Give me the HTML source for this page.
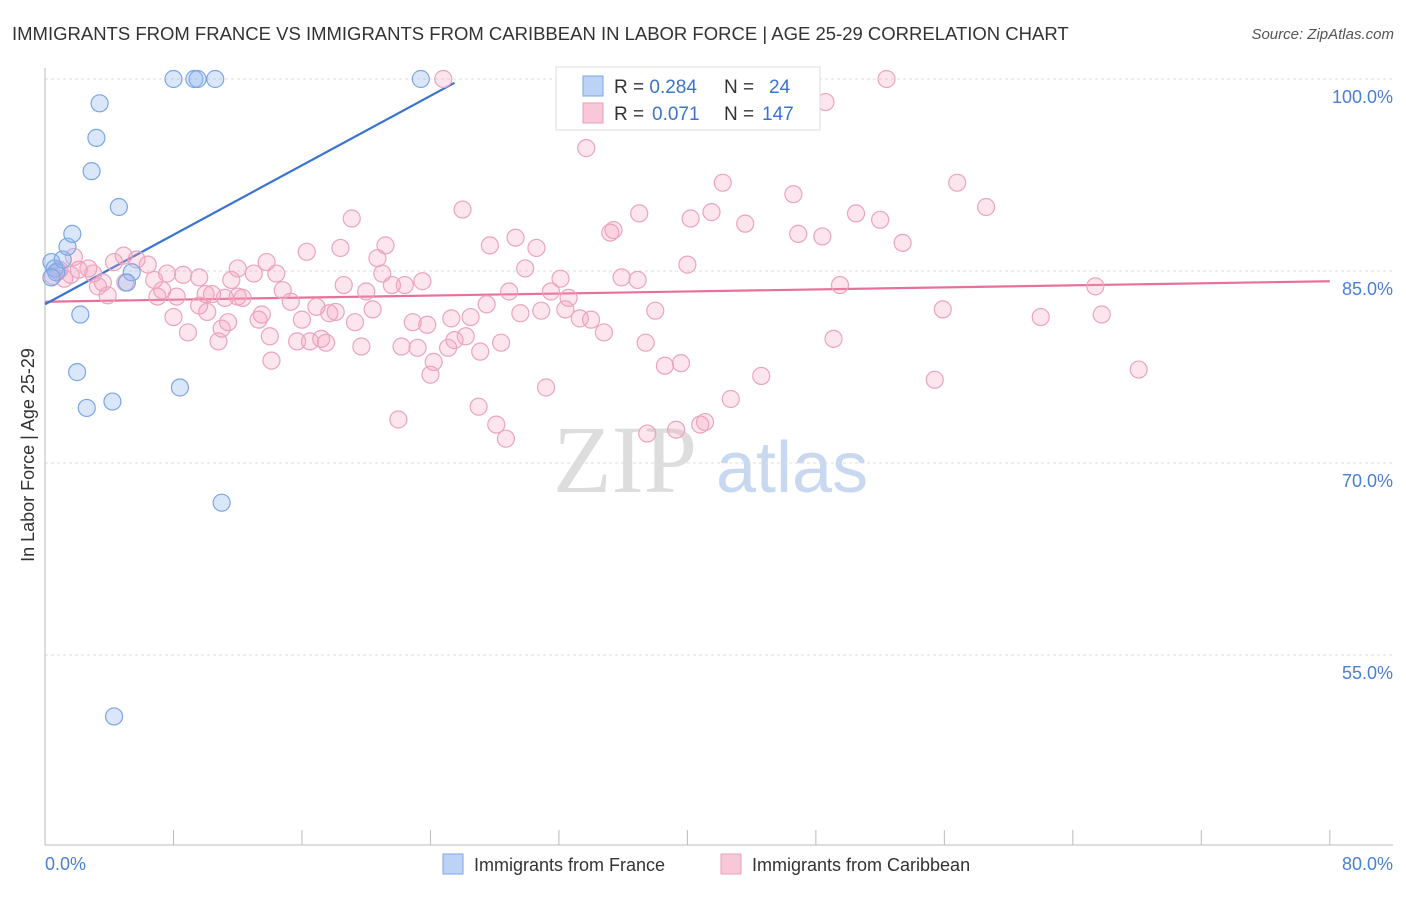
<!DOCTYPE html>
<html><head><meta charset="utf-8"><style>
body{margin:0;background:#fff;font-family:"Liberation Sans",sans-serif;}
</style></head><body>
<svg width="1406" height="892" xmlns="http://www.w3.org/2000/svg" style="font-family:'Liberation Sans',sans-serif">
<text x="12" y="40" font-size="18.5" fill="#333">IMMIGRANTS FROM FRANCE VS IMMIGRANTS FROM CARIBBEAN IN LABOR FORCE | AGE 25-29 CORRELATION CHART</text>
<text x="1394" y="39" font-size="15" fill="#555" text-anchor="end" font-style="italic">Source: ZipAtlas.com</text>
<g>
<text x="553" y="492" font-size="96" fill="#ddd" font-family="Liberation Serif">ZIP</text>
<text x="716" y="492" font-size="72" fill="#c8d8f0">atlas</text>
</g>
<g id="grid"></g><g id="axes"></g><g id="trend"></g><g id="pts"></g>
<text transform="translate(34,455) rotate(-90)" font-size="18" fill="#333" text-anchor="middle">In Labor Force | Age 25-29</text>
<text x="45" y="870" font-size="18" fill="#4a7fd4">0.0%</text>
<text x="1393" y="870" font-size="18" fill="#4a7fd4" text-anchor="end">80.0%</text>
<g>
<rect x="556" y="67" width="264" height="63" fill="#fff" stroke="#ddd"/>
<rect x="583" y="76" width="20" height="20" fill="#bcd3f5" stroke="#7aa6e6"/>
<rect x="583" y="103" width="20" height="20" fill="#f9c8d8" stroke="#e8a0b8"/>
<text x="614" y="93" font-size="19" fill="#333">R = <tspan fill="#3a73d0">0.284</tspan><tspan x="724">N = </tspan><tspan x="769" fill="#3a73d0">24</tspan></text>
<text x="614" y="120" font-size="19" fill="#333">R = <tspan x="652" fill="#3a73d0">0.071</tspan><tspan x="724">N = </tspan><tspan x="762" fill="#3a73d0">147</tspan></text>
</g>
<g>
<rect x="443" y="854" width="20" height="20" fill="#bcd3f5" stroke="#7aa6e6"/>
<text x="474" y="871" font-size="18" fill="#333">Immigrants from France</text>
<rect x="721" y="854" width="20" height="20" fill="#f9c8d8" stroke="#e8a0b8"/>
<text x="752" y="871" font-size="18" fill="#333">Immigrants from Caribbean</text>
</g>
</svg>
<script>
const yTicks=[100,85,70,55];
const yTickLabels=["100.0%","85.0%","70.0%","55.0%"];
const xTicks=[0,8,16,24,32,40,48,56,64,72,80];
const franceX=[0.4,0.6,0.7,0.4,1.1,1.4,1.7,3.4,3.2,2.9,4.6,2.2,2.0,2.6,4.2,8.4,11.0,4.3,8.0,9.3,9.5,10.6,23.4,5.4,5.1];
const franceY=[85.7,85.2,84.9,84.5,85.9,86.9,87.9,98.1,95.4,92.8,90.0,81.6,77.1,74.3,74.8,75.9,66.9,50.2,100,100,100,100,100,84.9,84.1];
const caribX=[24.8,52.4,48.6,33.7,42.2,56.8,46.6,58.6,26.0,37.0,41.5,40.2,50.5,52.0,19.1,43.6,35.2,35.4,29.3,46.9,48.4,53.4,27.7,21.2,30.6,18.4,16.3,20.7,40.0,4.9,6.4,5.7,4.3,2.7,1.8,0.9,1.6,2.1,3.0,3.6,3.3,3.9,5.0,6.8,7.6,8.6,9.6,7.3,7.0,8.2,10.0,10.4,11.6,12.0,13.0,13.8,14.4,14.8,12.0,12.3,9.6,10.1,11.2,15.3,8.0,8.9,11.0,10.8,11.4,13.3,13.5,14.0,16.0,16.9,18.6,20.0,21.0,21.6,22.4,23.5,17.7,18.1,19.3,20.4,15.7,16.5,17.2,17.5,19.7,14.1,22.2,23.2,22.9,23.8,25.3,26.5,24.2,24.0,25.1,25.5,26.2,27.5,27.1,28.4,28.9,29.6,29.9,30.9,31.5,32.1,32.6,32.4,33.3,34.0,34.8,35.9,36.9,38.0,37.4,38.6,39.6,44.6,42.7,41.1,40.8,39.3,37.5,31.2,28.7,28.1,27.0,22.0,49.5,49.1,55.4,55.9,62.0,65.4,65.8,68.1,0.5,0.8,1.2];
const caribY=[100,100,98.2,94.6,91.9,91.9,91.0,90.0,89.8,89.5,89.6,89.1,89.5,89.0,89.1,88.7,88.0,88.2,87.6,87.9,87.7,87.2,87.0,87.0,86.8,86.8,86.5,86.0,85.5,86.2,85.5,85.9,85.7,85.2,86.1,85.1,84.7,85.1,84.8,84.1,83.8,83.1,84.1,84.3,84.8,84.7,84.5,83.5,83.0,83.0,83.2,83.2,84.3,85.2,84.8,85.7,84.8,83.5,83.0,82.9,82.3,81.8,82.9,82.6,81.4,80.2,80.5,79.5,81.0,81.2,81.6,79.9,81.2,82.2,83.9,83.4,84.8,83.9,83.9,84.2,81.7,81.8,81.0,82.0,79.5,79.5,79.7,79.4,79.1,78.0,79.1,79.0,81.0,80.8,81.3,81.4,77.9,76.9,79.0,79.6,79.9,82.4,78.7,79.4,83.4,81.7,85.2,81.9,83.4,84.4,82.9,82.0,81.3,81.2,80.2,84.5,84.3,81.9,79.4,77.6,77.8,76.8,75.0,73.2,73.0,72.6,72.3,75.9,71.9,73.0,74.4,73.4,83.9,79.7,76.5,82.0,81.4,83.8,81.6,77.3,84.6,85.0,84.4];
const franceTrend=[0,82.4,25.5,99.7];
const caribTrend=[0,82.6,80,84.2];
const X=v=>45+v*16.06, Y=v=>79+(100-v)*12.8;
const NS="http://www.w3.org/2000/svg";
function mk(t,a,p){const e=document.createElementNS(NS,t);for(const k in a)e.setAttribute(k,a[k]);document.getElementById(p).appendChild(e);return e;}
yTicks.forEach((t,i)=>{
 const g=mk('line',{x1:45,x2:1393,y1:Y(t),y2:Y(t),stroke:'#ddd','stroke-dasharray':'3,3'},'grid');
 
 
 const l=mk('text',{x:1393,y:Y(t)+24,'font-size':18,fill:'#4a7fd4','text-anchor':'end'},'grid');
 l.textContent=yTickLabels[i];
 
 
});
const ax=mk('line',{x1:45,x2:45,y1:68,y2:845,stroke:'#bbb'},'axes');


const bx=mk('line',{x1:45,x2:1393,y1:845,y2:845,stroke:'#bbb'},'axes');


xTicks.forEach(t=>{const e=mk('line',{x1:X(t),x2:X(t),y1:830,y2:845,stroke:'#bbb'},'axes');
 
 });
caribX.forEach((v,i)=>{const c=mk('circle',{cx:X(v),cy:Y(caribY[i]),r:8.5,fill:'rgba(244,160,190,0.28)',stroke:'#eba4bd','stroke-width':1.2},'pts');
 
 });
franceX.forEach((v,i)=>{const c=mk('circle',{cx:X(v),cy:Y(franceY[i]),r:8.5,fill:'rgba(150,185,240,0.35)',stroke:'#7aa6e6','stroke-width':1.2},'pts');
 
 });
const t1=mk('line',{x1:X(caribTrend[0]),y1:Y(caribTrend[1]),x2:X(caribTrend[2]),y2:Y(caribTrend[3]),stroke:'#e8709a','stroke-width':2.2},'trend');


const t2=mk('line',{x1:X(franceTrend[0]),y1:Y(franceTrend[1]),x2:X(franceTrend[2]),y2:Y(franceTrend[3]),stroke:'#3a73d0','stroke-width':2.2},'trend');


</script>
</body></html>
